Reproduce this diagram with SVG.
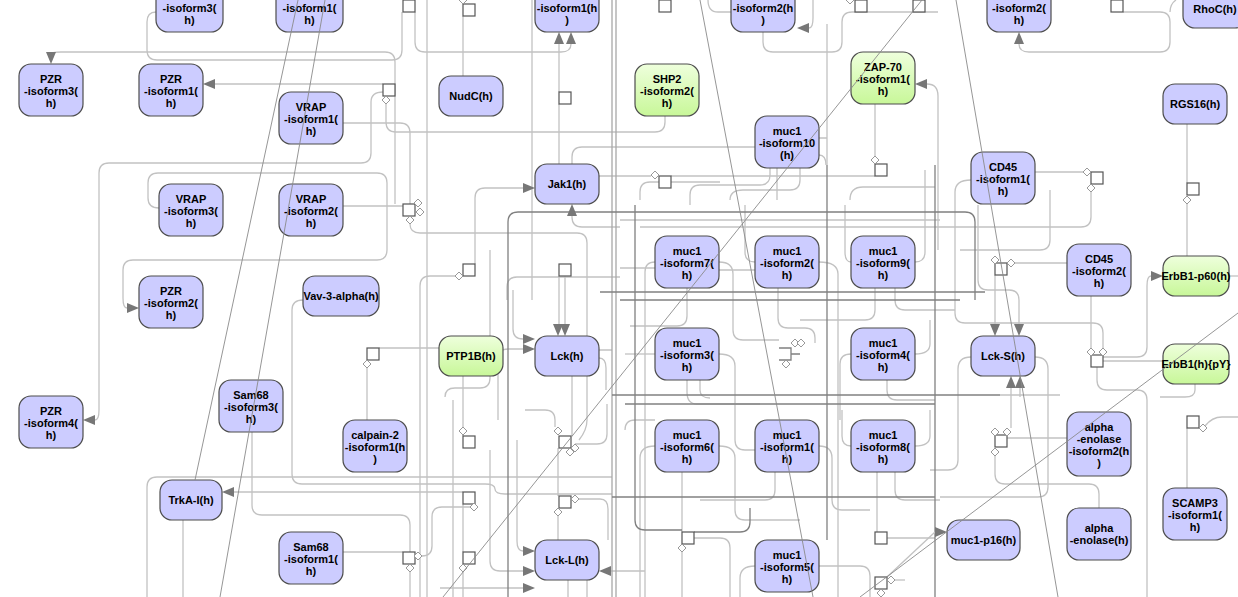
<svg xmlns="http://www.w3.org/2000/svg" xmlns:xlink="http://www.w3.org/1999/xlink" width="1238" height="597" viewBox="0 0 1238 597">
<style>
.c{fill:none;stroke:#c2c2c2;stroke-width:1.3}
.m{fill:none;stroke:#a8a8a8;stroke-width:1.3}
.d{fill:none;stroke:#808080;stroke-width:1.3}
.t{fill:none;stroke:#8a8a8a;stroke-width:0.9}
.a{fill:#777;stroke:none}
.sq{fill:#fff;stroke:#555;stroke-width:1.2}
.dm{fill:#fff;stroke:#999;stroke-width:1}
.n rect{stroke:#4d4d4d;stroke-width:1.2}
.lav{fill:#ccccff}
.grn{fill:url(#gg)}
.n text{font-family:"Liberation Sans",Arial,sans-serif;font-weight:bold;font-size:11px;fill:#000;text-anchor:middle}
</style>
<defs>
<linearGradient id="gg" x1="0" y1="0" x2="0" y2="1"><stop offset="0" stop-color="#eeffdc"/><stop offset="1" stop-color="#c8f799"/></linearGradient>
<rect id="sq" width="12" height="12" class="sq"/>
<path id="dm" d="M0,-4 L4,0 L0,4 L-4,0Z" class="dm"/>
</defs>
<rect width="1238" height="597" fill="#fff"/>
<g id="connectors">
<path class="c" d="M395,204 V62 Q395,52 385,52 H61 Q51,52 51,54"/>
<path class="c" d="M156,12 Q147,12 147,22 V50 Q147,60 157,60 H392 Q402,60 402,50 V12"/>
<path class="c" d="M415,12 V42 Q415,52 425,52 H561 Q571,52 571,44"/>
<path class="c" d="M559,164 V104 M559,92 V44"/>
<path class="c" d="M463,16 V76"/>
<path class="c" d="M383,84 H215"/>
<path class="c" d="M383,92 Q371,92 371,102 V153 Q371,163 361,163 H109 Q99,163 99,173 V410 Q99,420 95,420"/>
<path class="c" d="M386,104 V122 Q386,132 396,132 H655 Q665,132 665,122 V116"/>
<path class="c" d="M343,123 H400 Q410,123 410,133 V204"/>
<path class="c" d="M159,208 Q148,208 148,198 V183 Q148,173 158,173 H377 Q387,173 387,183 V250 Q387,260 377,260 H133 Q123,260 123,270 V298 Q123,308 127,308"/>
<path class="c" d="M343,206 H403"/>
<path class="c" d="M1123,12 H1160 Q1170,12 1170,22 V42 Q1170,52 1160,52 H1029 Q1019,52 1019,44"/>
<path class="c" d="M1170,12 Q1170,4 1176,0"/>
<path class="c" d="M813,0 V18 Q813,28 809,28"/>
<path class="c" d="M763,32 V42 Q763,52 773,52 H832 Q842,52 842,42 V22 Q842,12 852,12 H938"/>
<path class="c" d="M827,24 V165"/>
<path class="c" d="M708,0 Q708,12 718,12 H731"/>
<path class="c" d="M938,250 V96 Q938,84 927,84"/>
<path class="c" d="M875,104 V156"/>
<path class="c" d="M1187,124 V183 M1187,204 V256"/>
<path class="c" d="M1035,172 H1083"/>
<path class="c" d="M1091,192 V217 Q1091,227 1081,227 H640"/>
<path class="c" d="M971,180 Q955,180 955,192 V313 Q955,323 965,323 H1093 Q1103,323 1103,333 V348"/>
<path class="c" d="M1067,263 H1015"/>
<path class="c" d="M1091,296 V348"/>
<path class="c" d="M1103,361 H1163"/>
<path class="c" d="M1103,357 H1137 Q1147,357 1147,347 V286 Q1147,276 1151,276"/>
<path class="c" d="M1097,367 V380 Q1097,390 1107,390 H1137 Q1147,390 1147,400 V597"/>
<path class="c" d="M1229,276 H1238"/>
<path class="c" d="M1195,384 V390 Q1195,397 1185,397 H1160"/>
<path class="c" d="M995,275 V324"/>
<path class="c" d="M978,205 V280 Q978,290 988,290 H1009 Q1019,290 1019,300 V324"/>
<path class="c" d="M971,357 Q958,357 958,369 V460 Q958,470 948,470 H930"/>
<path class="c" d="M1035,357 Q1048,357 1048,369 V487 Q1048,497 1038,497 H940"/>
<path class="c" d="M1011,388 V428"/>
<path class="c" d="M1020,388 V397"/>
<path class="c" d="M1007,438 H1067"/>
<path class="c" d="M995,456 V474 Q995,484 1005,484 H1089 Q1099,484 1099,494 V508"/>
<path class="c" d="M1187,428 V488"/>
<path class="c" d="M1205,426 Q1212,417 1222,417 H1238"/>
<path class="c" d="M475,264 V198 Q475,188 485,188 H523"/>
<path class="c" d="M455,276 H430 Q420,276 420,286 V597"/>
<path class="c" d="M572,216 V217 Q572,227 582,227 H620"/>
<path class="c" d="M599,176 H651"/>
<path class="c" d="M572,164 V157 Q572,147 582,147 H755"/>
<path class="c" d="M671,176 H875"/>
<path class="c" d="M559,276 V324 M565,276 V324"/>
<path class="c" d="M379,348 H439"/>
<path class="c" d="M367,364 V420"/>
<path class="c" d="M463,376 V436"/>
<path class="c" d="M513,290 V329 Q513,339 523,339"/>
<path class="c" d="M498,420 V359 Q498,349 508,349 H523"/>
<path class="c" d="M303,300 Q292,300 292,310 V474 Q292,484 302,484 H485 Q495,484 495,489 Q495,494 505,494 H612"/>
<path class="c" d="M252,432 V505 Q252,515 262,515 H400 Q410,515 410,525 V552"/>
<path class="c" d="M234,492 H463"/>
<path class="c" d="M157,477 Q147,477 147,487 V597 M157,477 H612"/>
<path class="c" d="M183,520 V597"/>
<path class="c" d="M343,552 H403"/>
<path class="c" d="M422,556 Q432,556 432,546 V517 Q432,507 442,507 H470"/>
<path class="c" d="M410,572 V597"/>
<path class="c" d="M463,504 V552 M463,571 V597"/>
<path class="c" d="M490,450 V561 Q490,571 500,571 H523"/>
<path class="c" d="M517,440 V541 Q517,551 523,551"/>
<path class="c" d="M440,588 H523"/>
<path class="c" d="M611,571 H645"/>
<path class="c" d="M682,472 V532 M682,552 V597"/>
<path class="c" d="M877,472 V532"/>
<path class="c" d="M410,224 Q410,233 420,233 H577 Q587,233 587,243 V336"/>
<path class="c" d="M507,300 V287 Q507,277 517,277 H620"/>
<path class="c" d="M427,0 V597"/>
<path class="c" d="M532,0 V300"/>
<path class="c" d="M453,400 V597"/>
<path class="c" d="M445,397 Q445,388 455,388 H480 Q490,388 490,378 V250"/>
<path class="c" d="M558,448 V496 M558,512 V540"/>
<path class="c" d="M572,376 V436"/>
<path class="c" d="M587,376 V420 Q587,430 579,440"/>
<path class="c" d="M575,444 H597 Q607,444 607,434 V404"/>
<path class="c" d="M575,499 H600 Q608,499 608,509 V540"/>
<path class="c" d="M555,427 V420 Q555,410 545,410 H525"/>
<path class="c" d="M568,580 V597 M587,580 V597"/>
<path class="c" d="M655,262 Q645,262 645,272 V597"/>
<path class="c" d="M719,262 Q733,262 733,274 V330 Q733,340 743,340 H779"/>
<path class="c" d="M755,262 Q745,262 745,252 V205"/>
<path class="c" d="M819,262 Q838,262 838,274 V597"/>
<path class="c" d="M851,262 Q845,262 845,252 V205"/>
<path class="c" d="M915,262 Q925,262 925,252 V170"/>
<path class="c" d="M778,288 V318 Q778,328 788,328 H805 Q815,328 815,338 V343"/>
<path class="c" d="M875,288 V310 Q875,320 865,320 H800"/>
<path class="c" d="M895,288 V300 Q895,310 905,310 H955"/>
<path class="c" d="M687,288 V316 Q687,326 677,326 H630"/>
<path class="c" d="M655,354 H625"/>
<path class="c" d="M719,354 Q735,354 735,366 V440 Q735,450 745,450 H755"/>
<path class="c" d="M851,354 Q840,354 840,364 V420"/>
<path class="c" d="M915,354 Q930,354 930,344 V320"/>
<path class="c" d="M687,380 V392 Q687,404 697,404 H760"/>
<path class="c" d="M887,380 V390 Q887,400 897,400 H935"/>
<path class="c" d="M719,446 Q735,446 735,458 V510 Q735,520 745,520 H800"/>
<path class="c" d="M655,446 Q640,446 640,458 V597"/>
<path class="c" d="M819,446 Q832,446 832,458 V500 Q832,510 842,510 H870"/>
<path class="c" d="M851,446 Q842,446 842,436 V410"/>
<path class="c" d="M915,446 Q930,446 930,436 V410"/>
<path class="c" d="M775,472 V490 Q775,500 765,500 H700"/>
<path class="c" d="M895,472 V490 Q895,500 905,500 H940"/>
<path class="c" d="M755,566 Q740,566 740,578 V597"/>
<path class="c" d="M819,566 H860 Q870,566 870,576 V597"/>
<path class="c" d="M694,538 H720 Q730,538 730,548 V597"/>
<path class="c" d="M887,538 H935"/>
<path class="c" d="M640,200 V192 Q640,182 650,182 H720"/>
<path class="c" d="M690,205 V195 Q690,185 700,185 H760 Q770,185 770,175 V168"/>
<path class="c" d="M730,200 Q730,190 743,190 H790 Q800,190 800,180 V168"/>
<path class="c" d="M850,200 Q850,187 863,187 H935"/>
<path class="c" d="M819,138 H827 M819,155 Q826,155 826,165"/>
<path class="c" d="M777,168 V200"/>
<path class="c" d="M620,220 H940"/>
<path class="c" d="M620,268 H655 M719,270 H755"/>
<path class="c" d="M700,380 V390 Q700,398 710,398"/>
<path class="c" d="M625,430 Q625,420 635,420 H655"/>
<path class="c" d="M598,350 H612 M599,358 Q606,358 606,368 V390"/>
<path class="c" d="M960,250 H1040 Q1050,250 1050,240 V190"/>
<path class="c" d="M1000,395 H1060"/>
<path class="c" d="M895,580 H905"/>
<path class="m" d="M612,0 V597 M616,0 V597"/>
<path class="d" d="M508,597 V222 Q508,212 518,212 H965 Q975,212 975,222 V300"/>
<path class="d" d="M600,292 H985"/>
<path class="d" d="M620,300 H960"/>
<path class="d" d="M827,165 V540"/>
<path class="d" d="M935,165 V597"/>
<path class="d" d="M612,395 H1000"/>
<path class="d" d="M625,404 H935"/>
<path class="d" d="M612,497 H935"/>
<path class="d" d="M635,205 V520 Q635,530 645,530 H682"/>
<path class="d" d="M779,348 H791 V360 H779 M791,354 H800"/>
<path class="d" d="M694,532 H740 Q750,532 750,522 V508"/>
<path class="c" d="M887,577 L935,532"/>
<use href="#sq" x="403" y="0"/><use href="#sq" x="463" y="4"/><use href="#sq" x="559" y="92"/>
<use href="#sq" x="383" y="84"/><use href="#sq" x="659" y="0"/><use href="#sq" x="855" y="0"/>
<use href="#sq" x="913" y="0"/><use href="#sq" x="1111" y="0"/><use href="#sq" x="1091" y="172"/>
<use href="#sq" x="1187" y="183"/><use href="#sq" x="659" y="176"/><use href="#sq" x="875" y="164"/>
<use href="#sq" x="403" y="204"/><use href="#sq" x="463" y="264"/><use href="#sq" x="559" y="264"/>
<use href="#sq" x="367" y="348"/><use href="#sq" x="995" y="263"/><use href="#sq" x="1091" y="355"/>
<use href="#sq" x="463" y="436"/><use href="#sq" x="463" y="492"/><use href="#sq" x="463" y="552"/>
<use href="#sq" x="403" y="552"/><use href="#sq" x="559" y="436"/><use href="#sq" x="559" y="496"/>
<use href="#sq" x="682" y="532"/><use href="#sq" x="875" y="532"/><use href="#sq" x="875" y="577"/>
<use href="#sq" x="995" y="435"/><use href="#sq" x="1187" y="416"/>
<use href="#dm" x="463" y="0"/><use href="#dm" x="386" y="100"/><use href="#dm" x="850" y="0"/>
<use href="#dm" x="1087" y="172"/><use href="#dm" x="1091" y="188"/><use href="#dm" x="1187" y="200"/>
<use href="#dm" x="655" y="175"/><use href="#dm" x="875" y="160"/><use href="#dm" x="418" y="203"/>
<use href="#dm" x="420" y="212"/><use href="#dm" x="410" y="220"/><use href="#dm" x="459" y="276"/>
<use href="#dm" x="367" y="364"/><use href="#dm" x="995" y="260"/><use href="#dm" x="1011" y="263"/>
<use href="#dm" x="1091" y="352"/><use href="#dm" x="1103" y="352"/><use href="#dm" x="795" y="343"/>
<use href="#dm" x="801" y="343"/><use href="#dm" x="786" y="364"/><use href="#dm" x="463" y="431"/>
<use href="#dm" x="474" y="507"/><use href="#dm" x="418" y="556"/><use href="#dm" x="410" y="568"/>
<use href="#dm" x="463" y="568"/><use href="#dm" x="558" y="431"/><use href="#dm" x="575" y="448"/>
<use href="#dm" x="570" y="452"/><use href="#dm" x="575" y="499"/><use href="#dm" x="558" y="512"/>
<use href="#dm" x="682" y="548"/><use href="#dm" x="891" y="580"/><use href="#dm" x="881" y="593"/>
<use href="#dm" x="995" y="432"/><use href="#dm" x="1007" y="432"/><use href="#dm" x="995" y="452"/>
<use href="#dm" x="1203" y="428"/>
<polygon class="a" points="46,52 56,52 51,64"/>
<polygon class="a" points="215,79 215,89 203,84"/>
<polygon class="a" points="554,44 564,44 559,32"/>
<polygon class="a" points="566,44 576,44 571,32"/>
<polygon class="a" points="809,23 809,33 797,28"/>
<polygon class="a" points="1014,44 1024,44 1019,32"/>
<polygon class="a" points="927,79 927,89 915,84"/>
<polygon class="a" points="523,183 523,193 535,188"/>
<polygon class="a" points="567,216 577,216 572,204"/>
<polygon class="a" points="127,303 127,313 139,308"/>
<polygon class="a" points="553,324 563,324 558,336"/>
<polygon class="a" points="560,324 570,324 565,336"/>
<polygon class="a" points="523,334 523,344 535,339"/>
<polygon class="a" points="523,344 523,354 535,349"/>
<polygon class="a" points="990,324 1000,324 995,336"/>
<polygon class="a" points="1014,324 1024,324 1019,336"/>
<polygon class="a" points="1006,388 1016,388 1011,376"/>
<polygon class="a" points="1015,388 1025,388 1020,376"/>
<polygon class="a" points="1151,271 1151,281 1163,276"/>
<polygon class="a" points="95,415 95,425 83,420"/>
<polygon class="a" points="234,487 234,497 222,492"/>
<polygon class="a" points="523,546 523,556 535,551"/>
<polygon class="a" points="523,566 523,576 535,571"/>
<polygon class="a" points="523,583 523,593 535,588"/>
<polygon class="a" points="611,566 611,576 599,571"/>
<polygon class="a" points="935,527 935,537 947,532"/>
</g>
<g id="nodes">
<g id="n_top_isoform3" class="n"><rect class="lav" x="156" y="-20" width="67" height="52" rx="12"/><text><tspan x="189.5" y="12">-isoform3(</tspan><tspan x="189.5" y="24">h)</tspan></text></g>
<g id="n_top_isoform1a" class="n"><rect class="lav" x="276" y="-20" width="67" height="52" rx="12"/><text><tspan x="309.5" y="12">-isoform1(</tspan><tspan x="309.5" y="24">h)</tspan></text></g>
<g id="n_top_isoform1b" class="n"><rect class="lav" x="535" y="-20" width="64" height="52" rx="12"/><text><tspan x="567" y="12">-isoform1(h</tspan><tspan x="567" y="24">)</tspan></text></g>
<g id="n_top_isoform2a" class="n"><rect class="lav" x="731" y="-20" width="64" height="52" rx="12"/><text><tspan x="763" y="12">-isoform2(h</tspan><tspan x="763" y="24">)</tspan></text></g>
<g id="n_top_isoform2b" class="n"><rect class="lav" x="987" y="-20" width="64" height="52" rx="12"/><text><tspan x="1019" y="12">-isoform2(</tspan><tspan x="1019" y="24">h)</tspan></text></g>
<g id="n_RhoC" class="n"><rect class="lav" x="1183" y="-12" width="64" height="40" rx="12"/><text x="1215" y="13">RhoC(h)</text></g>
<g id="n_PZR3" class="n"><rect class="lav" x="19" y="64" width="64" height="52" rx="12"/><text><tspan x="51" y="83">PZR</tspan><tspan x="51" y="95">-isoform3(</tspan><tspan x="51" y="107">h)</tspan></text></g>
<g id="n_PZR1" class="n"><rect class="lav" x="139" y="64" width="64" height="52" rx="12"/><text><tspan x="171" y="83">PZR</tspan><tspan x="171" y="95">-isoform1(</tspan><tspan x="171" y="107">h)</tspan></text></g>
<g id="n_VRAP1" class="n"><rect class="lav" x="279" y="92" width="64" height="52" rx="12"/><text><tspan x="311" y="111">VRAP</tspan><tspan x="311" y="123">-isoform1(</tspan><tspan x="311" y="135">h)</tspan></text></g>
<g id="n_NudC" class="n"><rect class="lav" x="439" y="76" width="64" height="40" rx="12"/><text x="471" y="100">NudC(h)</text></g>
<g id="n_SHP2" class="n"><rect class="grn" x="635" y="64" width="64" height="52" rx="12"/><text><tspan x="667" y="83">SHP2</tspan><tspan x="667" y="95">-isoform2(</tspan><tspan x="667" y="107">h)</tspan></text></g>
<g id="n_ZAP70" class="n"><rect class="grn" x="851" y="52" width="64" height="52" rx="12"/><text><tspan x="883" y="71">ZAP-70</tspan><tspan x="883" y="83">-isoform1(</tspan><tspan x="883" y="95">h)</tspan></text></g>
<g id="n_muc1_10" class="n"><rect class="lav" x="755" y="116" width="64" height="52" rx="12"/><text><tspan x="787" y="135">muc1</tspan><tspan x="787" y="147">-isoform10</tspan><tspan x="787" y="159">(h)</tspan></text></g>
<g id="n_RGS16" class="n"><rect class="lav" x="1163" y="84" width="64" height="40" rx="12"/><text x="1195" y="108">RGS16(h)</text></g>
<g id="n_CD45_1" class="n"><rect class="lav" x="971" y="152" width="64" height="52" rx="12"/><text><tspan x="1003" y="171">CD45</tspan><tspan x="1003" y="183">-isoform1(</tspan><tspan x="1003" y="195">h)</tspan></text></g>
<g id="n_Jak1" class="n"><rect class="lav" x="535" y="164" width="64" height="40" rx="12"/><text x="567" y="188">Jak1(h)</text></g>
<g id="n_VRAP3" class="n"><rect class="lav" x="159" y="184" width="64" height="52" rx="12"/><text><tspan x="191" y="203">VRAP</tspan><tspan x="191" y="215">-isoform3(</tspan><tspan x="191" y="227">h)</tspan></text></g>
<g id="n_VRAP2" class="n"><rect class="lav" x="279" y="184" width="64" height="52" rx="12"/><text><tspan x="311" y="203">VRAP</tspan><tspan x="311" y="215">-isoform2(</tspan><tspan x="311" y="227">h)</tspan></text></g>
<g id="n_PZR2" class="n"><rect class="lav" x="139" y="276" width="64" height="52" rx="12"/><text><tspan x="171" y="295">PZR</tspan><tspan x="171" y="307">-isoform2(</tspan><tspan x="171" y="319">h)</tspan></text></g>
<g id="n_Vav3" class="n"><rect class="lav" x="303" y="276" width="76" height="40" rx="12"/><text x="341" y="300">Vav-3-alpha(h)</text></g>
<g id="n_muc1_7" class="n"><rect class="lav" x="655" y="236" width="64" height="52" rx="12"/><text><tspan x="687" y="255">muc1</tspan><tspan x="687" y="267">-isoform7(</tspan><tspan x="687" y="279">h)</tspan></text></g>
<g id="n_muc1_2" class="n"><rect class="lav" x="755" y="236" width="64" height="52" rx="12"/><text><tspan x="787" y="255">muc1</tspan><tspan x="787" y="267">-isoform2(</tspan><tspan x="787" y="279">h)</tspan></text></g>
<g id="n_muc1_9" class="n"><rect class="lav" x="851" y="236" width="64" height="52" rx="12"/><text><tspan x="883" y="255">muc1</tspan><tspan x="883" y="267">-isoform9(</tspan><tspan x="883" y="279">h)</tspan></text></g>
<g id="n_CD45_2" class="n"><rect class="lav" x="1067" y="244" width="64" height="52" rx="12"/><text><tspan x="1099" y="263">CD45</tspan><tspan x="1099" y="275">-isoform2(</tspan><tspan x="1099" y="287">h)</tspan></text></g>
<g id="n_ErbB1_p60" class="n"><rect class="grn" x="1163" y="256" width="66" height="40" rx="12"/><text x="1196" y="280">ErbB1-p60(h)</text></g>
<g id="n_PTP1B" class="n"><rect class="grn" x="439" y="336" width="64" height="40" rx="12"/><text x="471" y="360">PTP1B(h)</text></g>
<g id="n_Lck" class="n"><rect class="lav" x="535" y="336" width="64" height="40" rx="12"/><text x="567" y="360">Lck(h)</text></g>
<g id="n_muc1_3" class="n"><rect class="lav" x="655" y="328" width="64" height="52" rx="12"/><text><tspan x="687" y="347">muc1</tspan><tspan x="687" y="359">-isoform3(</tspan><tspan x="687" y="371">h)</tspan></text></g>
<g id="n_muc1_4" class="n"><rect class="lav" x="851" y="328" width="64" height="52" rx="12"/><text><tspan x="883" y="347">muc1</tspan><tspan x="883" y="359">-isoform4(</tspan><tspan x="883" y="371">h)</tspan></text></g>
<g id="n_LckS" class="n"><rect class="lav" x="971" y="336" width="64" height="40" rx="12"/><text x="1003" y="360">Lck-S(h)</text></g>
<g id="n_ErbB1_pY" class="n"><rect class="grn" x="1163" y="344" width="66" height="40" rx="12"/><text x="1196" y="368">ErbB1(h){pY}</text></g>
<g id="n_PZR4" class="n"><rect class="lav" x="19" y="396" width="64" height="52" rx="12"/><text><tspan x="51" y="415">PZR</tspan><tspan x="51" y="427">-isoform4(</tspan><tspan x="51" y="439">h)</tspan></text></g>
<g id="n_Sam68_3" class="n"><rect class="lav" x="219" y="380" width="64" height="52" rx="12"/><text><tspan x="251" y="399">Sam68</tspan><tspan x="251" y="411">-isoform3(</tspan><tspan x="251" y="423">h)</tspan></text></g>
<g id="n_calpain2" class="n"><rect class="lav" x="343" y="420" width="64" height="52" rx="12"/><text><tspan x="375" y="439">calpain-2</tspan><tspan x="375" y="451">-isoform1(h</tspan><tspan x="375" y="463">)</tspan></text></g>
<g id="n_muc1_6" class="n"><rect class="lav" x="655" y="420" width="64" height="52" rx="12"/><text><tspan x="687" y="439">muc1</tspan><tspan x="687" y="451">-isoform6(</tspan><tspan x="687" y="463">h)</tspan></text></g>
<g id="n_muc1_1" class="n"><rect class="lav" x="755" y="420" width="64" height="52" rx="12"/><text><tspan x="787" y="439">muc1</tspan><tspan x="787" y="451">-isoform1(</tspan><tspan x="787" y="463">h)</tspan></text></g>
<g id="n_muc1_8" class="n"><rect class="lav" x="851" y="420" width="64" height="52" rx="12"/><text><tspan x="883" y="439">muc1</tspan><tspan x="883" y="451">-isoform8(</tspan><tspan x="883" y="463">h)</tspan></text></g>
<g id="n_alpha_enolase2" class="n"><rect class="lav" x="1067" y="412" width="64" height="64" rx="12"/><text><tspan x="1099" y="431">alpha</tspan><tspan x="1099" y="443">-enolase</tspan><tspan x="1099" y="455">-isoform2(h</tspan><tspan x="1099" y="467">)</tspan></text></g>
<g id="n_TrkA" class="n"><rect class="lav" x="160" y="480" width="62" height="40" rx="12"/><text x="191" y="504">TrkA-I(h)</text></g>
<g id="n_SCAMP3" class="n"><rect class="lav" x="1163" y="488" width="64" height="52" rx="12"/><text><tspan x="1195" y="507">SCAMP3</tspan><tspan x="1195" y="519">-isoform1(</tspan><tspan x="1195" y="531">h)</tspan></text></g>
<g id="n_alpha_enolase" class="n"><rect class="lav" x="1067" y="508" width="64" height="52" rx="12"/><text><tspan x="1099" y="532">alpha</tspan><tspan x="1099" y="544">-enolase(h)</tspan></text></g>
<g id="n_muc1_p16" class="n"><rect class="lav" x="947" y="520" width="73" height="40" rx="12"/><text x="983.5" y="544">muc1-p16(h)</text></g>
<g id="n_Sam68_1" class="n"><rect class="lav" x="279" y="532" width="64" height="52" rx="12"/><text><tspan x="311" y="551">Sam68</tspan><tspan x="311" y="563">-isoform1(</tspan><tspan x="311" y="575">h)</tspan></text></g>
<g id="n_LckL" class="n"><rect class="lav" x="535" y="540" width="64" height="40" rx="12"/><text x="567" y="564">Lck-L(h)</text></g>
<g id="n_muc1_5" class="n"><rect class="lav" x="755" y="540" width="64" height="52" rx="12"/><text><tspan x="787" y="559">muc1</tspan><tspan x="787" y="571">-isoform5(</tspan><tspan x="787" y="583">h)</tspan></text></g>
</g>
<g id="connectors-over">
<path class="t" d="M298,0 L195,480"/>
<path class="t" d="M325,0 L220,597"/>
<path class="t" d="M922,0 L443,597"/>
<path class="t" d="M700,0 L813,597"/>
<path class="t" d="M956,0 L1058,597"/>
<path class="t" d="M1238,313 L860,597"/>
</g>
</svg>
